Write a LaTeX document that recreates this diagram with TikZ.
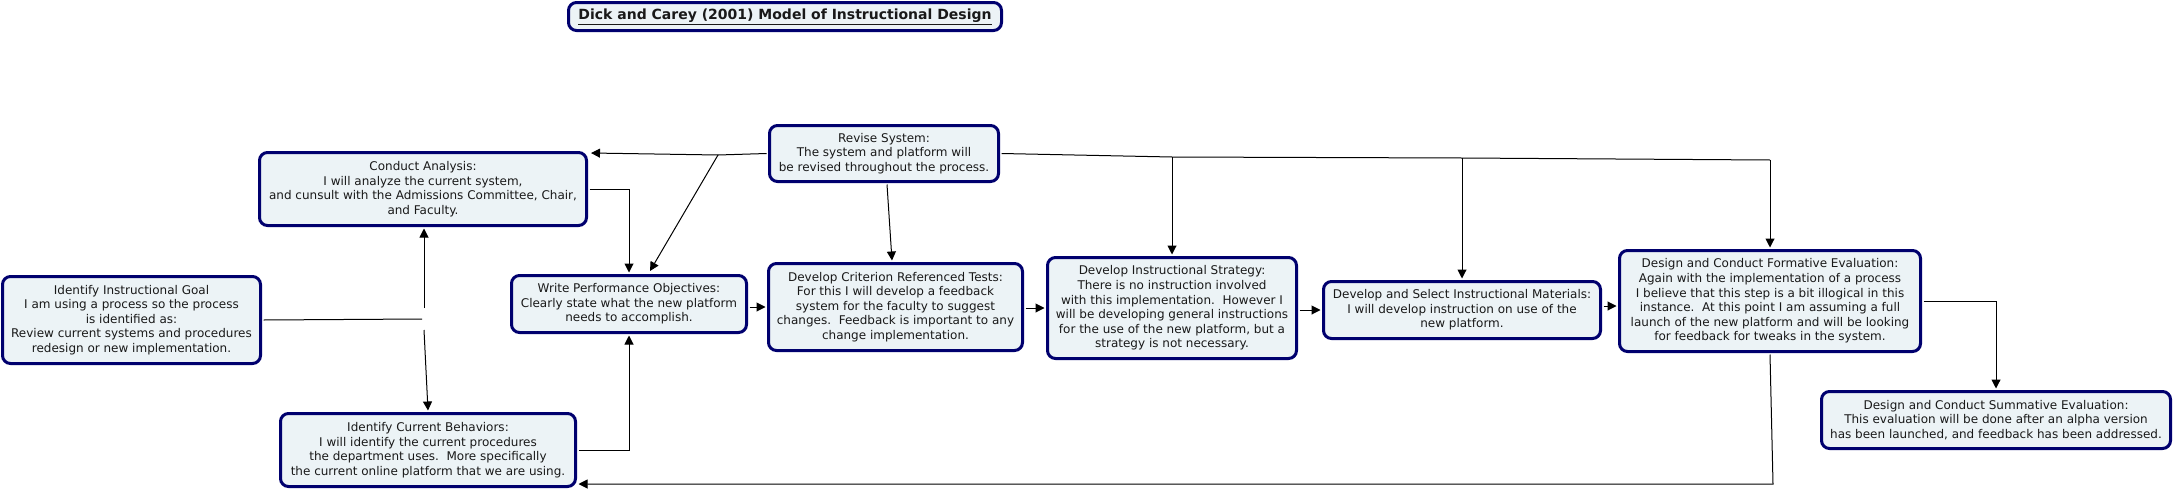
\documentclass[tikz,border=0pt]{standalone}
\usepackage{fontspec}
\setmainfont{DejaVu Sans}
\usetikzlibrary{arrows.meta}
\definecolor{boxborder}{RGB}{0,0,110}
\definecolor{boxfill}{RGB}{236,243,246}
\definecolor{txt}{RGB}{25,25,25}
\frenchspacing
\begin{document}
\begin{tikzpicture}[x=1pt,y=-1pt,
  box/.style={draw=boxborder, line width=3pt, fill=boxfill, rounded corners=8pt,
    align=center, inner sep=0pt, outer sep=3pt, text=txt,
    font=\fontsize{12}{14.6}\selectfont},
  gap/.style={inner sep=0pt, outer sep=0pt, minimum width=4pt, minimum height=22pt},
  link/.style={draw=black, line width=1pt},
  arr/.style={link, -{Triangle[length=9pt,width=9pt]}}]
\useasboundingbox (0,0) rectangle (2173,490);

% title
\node[box, font=\bfseries\fontsize{14}{17}\selectfont, minimum width=433pt, minimum height=28pt] (title) at (785,16.5)
  {\underline{Dick and Carey (2001) Model of Instructional Design}};

% concepts
\node[box, minimum width=327pt, minimum height=73pt] (ca) at (423,189)
  {Conduct Analysis:\\I will analyze the current system,\\and cunsult with the Admissions Committee, Chair,\\and Faculty.};
\node[box, minimum width=258pt, minimum height=87pt] (iig) at (131.5,320)
  {Identify Instructional Goal\\I am using a process so the process\\is identified as:\\Review current systems and procedures\\redesign or new implementation.};
\node[box, minimum width=295pt, minimum height=73pt] (icb) at (428,450)
  {Identify Current Behaviors:\\I will identify the current procedures\\the department uses.\ \ More specifically\\the current online platform that we are using.};
\node[box, minimum width=229pt, minimum height=56pt] (rs) at (884,153.5)
  {Revise System:\\The system and platform will\\be revised throughout the process.};
\node[box, minimum width=235pt, minimum height=57pt] (wpo) at (629,304)
  {Write Performance Objectives:\\Clearly state what the new platform\\needs to accomplish.};
\node[box, minimum width=254pt, minimum height=87pt] (dcrt) at (895.5,307)
  {Develop Criterion Referenced Tests:\\For this I will develop a feedback\\system for the faculty to suggest\\changes.\ \ Feedback is important to any\\change implementation.};
\node[box, minimum width=249pt, minimum height=101pt] (dis) at (1172,308)
  {Develop Instructional Strategy:\\There is no instruction involved\\with this implementation.\ \ However I\\will be developing general instructions\\for the use of the new platform, but a\\strategy is not necessary.};
\node[box, minimum width=277pt, minimum height=57pt] (dsim) at (1462,310)
  {Develop and Select Instructional Materials:\\I will develop instruction on use of the\\new platform.};
\node[box, minimum width=301pt, minimum height=101pt] (dcfe) at (1770,301)
  {Design and Conduct Formative Evaluation:\\Again with the implementation of a process\\I believe that this step is a bit illogical in this\\instance.\ \ At this point I am assuming a full\\launch of the new platform and will be looking\\for feedback for tweaks in the system.};
\node[box, minimum width=349pt, minimum height=57pt] (dcse) at (1996,420)
  {Design and Conduct Summative Evaluation:\\This evaluation will be done after an alpha version\\has been launched, and feedback has been addressed.};

% empty linking phrase
\node[gap] (j1) at (424,319) {};

% junction points
\coordinate (j2) at (718,155);
\coordinate (caR) at (591,153);
\coordinate (wpoT) at (650,271);
\coordinate (j3) at (1172,157);
\coordinate (k1) at (1462,158);
\coordinate (k2) at (1770,160);
\coordinate (k3) at (1773,484);

% connectors
\draw[link] (iig.east) -- (j1.west);
\draw[arr] (j1.north) -- (j1.north |- ca.south);
\draw[arr] (j1.south) -- (icb.north);

\draw[link] (rs.west) -- (j2);
\draw[arr] (j2) -- (caR);
\draw[arr] (j2) -- (wpoT);
\draw[arr] ([xshift=3pt]rs.south) -- ([xshift=-3.5pt]dcrt.north);

\draw[link] (rs.east) -- (j3) -- (k1) -- (k2);
\draw[arr] (j3) -- (dis.north);
\draw[arr] (k1) -- (dsim.north);
\draw[arr] (k2) -- (dcfe.north);

\draw[arr] (ca.east) -| (wpo.north);
\draw[arr] (icb.east) -| (wpo.south);
\draw[arr] (wpo.east |- dcrt.west) -- (dcrt.west);
\draw[arr] (dcrt.east |- dis.west) -- (dis.west);
\draw[arr] (dis.east |- dsim.west) -- (dsim.west);
\draw[arr] ([yshift=4pt]dsim.east) coordinate (t) -- (t -| dcfe.west);
\draw[arr] (dcfe.east) -| (dcse.north);
\draw[arr] (dcfe.south) -- (k3) -- (icb.east |- k3);
\end{tikzpicture}
\end{document}
